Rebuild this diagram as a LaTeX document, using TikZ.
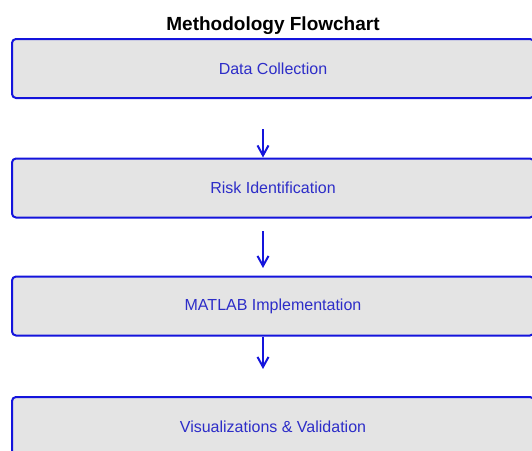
\documentclass[tikz,border=0pt]{standalone}
\usepackage{fontspec}
\setmainfont{Liberation Sans}
\usetikzlibrary{arrows.meta}
\definecolor{flowblue}{RGB}{20,20,220}
\definecolor{textblue}{RGB}{45,45,200}
\definecolor{boxgray}{RGB}{228,228,228}
\begin{document}
\begin{tikzpicture}
[x=1pt,y=-1pt,
  stepbox/.style={shape=rectangle,draw=flowblue,line width=2pt,rounded corners=4pt,
    fill=boxgray,minimum width=522pt,minimum height=59pt,text=textblue,
    font=\fontsize{16}{19}\selectfont},%
  flowarrow/.style={-{Straight Barb[length=10pt,width=11pt]},draw=flowblue,line width=2pt}]
\useasboundingbox (0,0) rectangle (532,450);
%% title
\node (title) at (273,26) [font=\bfseries\fontsize{19}{22}\selectfont] {Methodology Flowchart};
%% boxes
\foreach \nodename/\y/\boxtext in {collect/68.5/Data Collection, risk/188/Risk Identification,
  matlab/306/MATLAB Implementation, visual/426.5/Visualizations \& Validation} {
  \node (\nodename) at (273,\y) [stepbox] {\boxtext};
}
%% free arrow ends
\coordinate (a1) at (263,129);
\coordinate (a2) at (263,231);
\coordinate (b2) at (263,268);
\coordinate (b3) at (263,369);
%% arrows
\draw[flowarrow] (a1) -- (a1 |- risk.north);
\draw[flowarrow] (a2) -- (b2);
\draw[flowarrow] (a1 |- matlab.south) -- (b3);
\end{tikzpicture}
\end{document}
